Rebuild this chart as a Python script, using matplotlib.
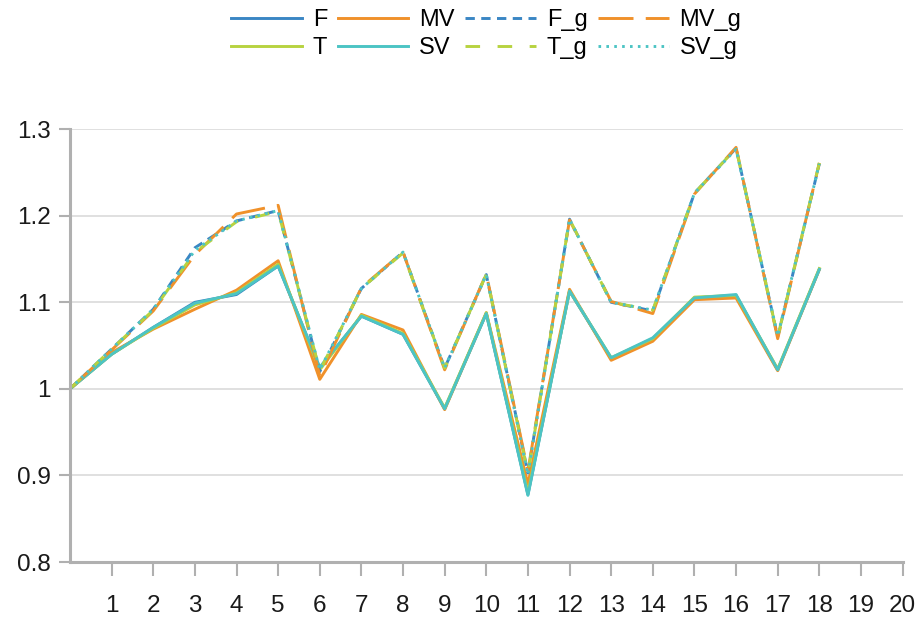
import matplotlib
matplotlib.use("Agg")
import matplotlib.pyplot as plt

# data
steps = list(range(19))
F = [1.0, 1.040, 1.071, 1.100, 1.109, 1.142, 1.024, 1.084, 1.063, 0.977, 1.087,
     0.878, 1.113, 1.035, 1.058, 1.105, 1.108, 1.022, 1.138]
MV = [1.0, 1.042, 1.069, 1.092, 1.114, 1.148, 1.011, 1.086, 1.068, 0.976, 1.088,
      0.890, 1.115, 1.033, 1.055, 1.103, 1.105, 1.021, 1.138]
T = [1.0, 1.040, 1.070, 1.097, 1.111, 1.144, 1.022, 1.085, 1.064, 0.978, 1.088,
     0.880, 1.113, 1.036, 1.058, 1.106, 1.108, 1.023, 1.139]
SV = [1.0, 1.040, 1.071, 1.099, 1.110, 1.142, 1.025, 1.084, 1.063, 0.977, 1.087,
      0.877, 1.113, 1.036, 1.059, 1.105, 1.109, 1.022, 1.138]
F_g = [1.0, 1.046, 1.092, 1.163, 1.194, 1.206, 1.020, 1.116, 1.158, 1.024, 1.132,
       0.903, 1.196, 1.100, 1.090, 1.226, 1.278, 1.060, 1.260]
MV_g = [1.0, 1.045, 1.090, 1.155, 1.202, 1.212, 1.015, 1.117, 1.158, 1.022, 1.133,
        0.905, 1.195, 1.101, 1.087, 1.225, 1.279, 1.058, 1.261]
T_g = [1.0, 1.046, 1.091, 1.158, 1.193, 1.205, 1.021, 1.116, 1.157, 1.024, 1.132,
       0.902, 1.196, 1.100, 1.091, 1.226, 1.278, 1.060, 1.261]
SV_g = [1.0, 1.046, 1.092, 1.160, 1.194, 1.206, 1.022, 1.116, 1.158, 1.024, 1.132,
        0.901, 1.196, 1.100, 1.091, 1.226, 1.277, 1.061, 1.260]

y_ticks = [0.8, 0.9, 1.0, 1.1, 1.2, 1.3]
y_labels = ["0.8", "0.9", "1", "1.1", "1.2", "1.3"]
x_ticks = list(range(1, 21))

C_F, C_MV, C_T, C_SV = "#3a86c4", "#f0912a", "#b7d340", "#4cc4c4"
AX_GREY = "#b0b0b0"
LW = 2.1

plt.rcParams["font.family"] = ["Liberation Sans", "DejaVu Sans"]

fig = plt.figure(figsize=(9.21, 6.21), dpi=100)
ax = fig.add_axes([0.076, 0.095, 0.904, 0.697])

series = [
    ("F", F, C_F, "-"),
    ("MV", MV, C_MV, "-"),
    ("T", T, C_T, "-"),
    ("SV", SV, C_SV, "-"),
    ("F_g", F_g, C_F, (0, (3.2, 2.2))),
    ("MV_g", MV_g, C_MV, (0, (12, 4.2))),
    ("T_g", T_g, C_T, (0, (5, 6))),
    ("SV_g", SV_g, C_SV, (0, (0.9, 1.8))),
]
handles = {}
for name, vals, col, ls in series:
    ln, = ax.plot(steps, vals, color=col, lw=LW, ls=ls, label=name)
    handles[name] = ln

ax.set_xlim(0, 20)
ax.set_ylim(0.8, 1.3)
ax.set_xticks(x_ticks)
ax.set_yticks(y_ticks)
ax.set_yticklabels(y_labels)
ax.yaxis.grid(True, color="#e0e0e0", lw=1.4)
ax.set_axisbelow(True)
for s in ("top", "right"):
    ax.spines[s].set_visible(False)
for s in ("left", "bottom"):
    ax.spines[s].set_color(AX_GREY)
    ax.spines[s].set_linewidth(2.2)
ax.tick_params(axis="x", length=10, width=1.5, color=AX_GREY, pad=14,
               labelsize=17.5, labelcolor="#1a1a1a")
ax.tick_params(axis="y", length=8, width=1.5, color=AX_GREY, pad=6,
               labelsize=17.5, labelcolor="#1a1a1a")

order = ["F", "T", "MV", "SV", "F_g", "T_g", "MV_g", "SV_g"]
ax.legend([handles[n] for n in order], order, ncol=4, loc="lower center",
          bbox_to_anchor=(0.5, 1.14), frameon=False, fontsize=17,
          handlelength=3.0, handletextpad=0.45, columnspacing=0.45,
          labelspacing=0.25, borderaxespad=0)

fig.savefig("out.png", dpi=100)
